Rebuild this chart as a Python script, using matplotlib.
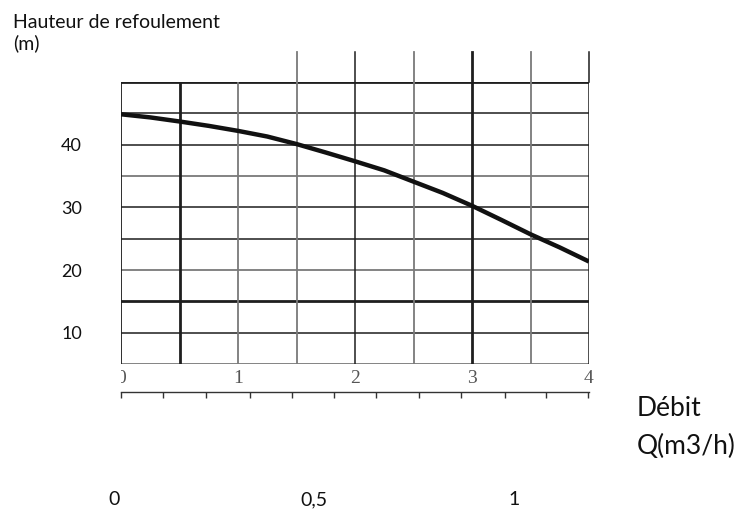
"""
Courbe de pompe : hauteur de refoulement en fonction du débit.
"""
import matplotlib
matplotlib.use("Agg")
import matplotlib.pyplot as plt
from matplotlib.transforms import Bbox, TransformedBbox

OUTPUT_PATH = "out.png"

# courbe (pas de 0,25)
Q_CURVE = [0, 0.25, 0.5, 0.75, 1, 1.25, 1.5, 1.75, 2, 2.25,
           2.5, 2.75, 3, 3.25, 3.5, 3.75, 4]
H_CURVE = [44.85, 44.35, 43.7, 43.0, 42.2, 41.3, 40.1, 38.75, 37.35, 35.9,
           34.1, 32.3, 30.25, 28.0, 25.7, 23.6, 21.35]

# quadrillage
GRID_Q = [0.5, 1, 1.5, 2, 2.5, 3, 3.5, 4]
GRID_H = [5, 10, 15, 20, 25, 30, 35, 40, 45, 50]
GRID_Q_EXTENDED = [1.5, 2, 2.5, 3, 3.5, 4]

H_TICKS = [10, 20, 30, 40]
Q_TICKS = [0, 1, 2, 3, 4]
Q_LABELS = ["0", "1", "2", "3", "4"]

# échelle secondaire en m3/h
M3H_TICKS = [0, 0.36, 0.73, 1.1, 1.46, 1.82, 2.18, 2.55, 2.91, 3.28, 3.63, 3.99]
M3H_LABELS = ["0", "0,5", "1"]
M3H_LABEL_POS = [-0.06, 1.65, 3.36]

THICK_Q = {0.5, 3}
GRAY_Q = {1, 1.5, 2.5, 3.5}
THICK_H = {15, 50}
GRAY_H = {5, 20, 35}

FONT = "Lato"
DARK = "#1e1e1e"
GRAY = "#7a7a7a"


def line_style(value, thick, gray):
    if value in thick:
        return DARK, 2.0
    if value in gray:
        return GRAY, 1.3
    return DARK, 1.1


def main() -> None:
    fig = plt.figure(figsize=(7.56, 5.11), dpi=100)
    ax = fig.add_axes([121 / 756, 1 - 364 / 511, 468 / 756, 282 / 511])
    ax.set_xlim(0, 4)
    ax.set_ylim(5, 50)
    for spine in ax.spines.values():
        spine.set_visible(False)

    for h in GRID_H:
        color, lw = line_style(h, THICK_H, GRAY_H)
        ax.axhline(h, color=color, lw=lw, zorder=1)
    ax.axvline(0, color=DARK, lw=1.3, zorder=1)
    for q in GRID_Q:
        color, lw = line_style(q, THICK_Q, GRAY_Q)
        ax.axvline(q, color=color, lw=lw, zorder=1)
        if q in GRID_Q_EXTENDED:
            ax.plot([q, q], [50, 54.8], color=color, lw=lw, clip_on=False, zorder=1)

    ax.plot(Q_CURVE, H_CURVE, color="#111111", lw=3.2, solid_capstyle="butt",
            solid_joinstyle="round", zorder=3)

    ax.set_yticks(H_TICKS)
    ax.set_yticklabels([str(h) for h in H_TICKS], fontsize=13, family=FONT, color="#111111")
    ax.tick_params(axis="y", length=0, pad=28)

    ax.set_xticks(Q_TICKS)
    ax.set_xticklabels(Q_LABELS, fontsize=14, family="Liberation Serif", color="#555555")
    ax.tick_params(axis="x", length=0, pad=4)
    # le "0" est à moitié coupé sur l'original
    clip = TransformedBbox(Bbox([[0, -1], [1.05, 0]]), ax.transAxes)
    first = ax.get_xticklabels()[0]
    first.set_clip_box(clip)
    first.set_clip_on(True)

    sec = ax.secondary_xaxis(-28 / 282)
    sec.set_xticks(M3H_TICKS)
    sec.set_xticklabels([""] * len(M3H_TICKS))
    sec.spines["bottom"].set_color("#333333")
    sec.spines["bottom"].set_linewidth(1.0)
    sec.tick_params(axis="x", direction="out", length=4, width=1.0, color="#333333")

    trans = ax.get_xaxis_transform()
    for pos, label in zip(M3H_LABEL_POS, M3H_LABELS):
        ax.text(pos, -(505 - 364) / 282, label, transform=trans, ha="center",
                va="baseline", fontsize=14, family=FONT, color="#111111")

    fig.text(13 / 756, 1 - 28 / 511, "Hauteur de refoulement", fontsize=14,
             family=FONT, color="#111111", va="baseline")
    fig.text(13 / 756, 1 - 49 / 511, "(m)", fontsize=14, family=FONT,
             color="#111111", va="baseline")
    fig.text(637 / 756, 1 - 416 / 511, "Débit", fontsize=19, family=FONT,
             color="#111111", va="baseline")
    fig.text(637 / 756, 1 - 454 / 511, "Q(m3/h)", fontsize=19, family=FONT,
             color="#111111", va="baseline")

    fig.savefig(OUTPUT_PATH, dpi=100)
    plt.close(fig)


if __name__ == "__main__":
    main()
